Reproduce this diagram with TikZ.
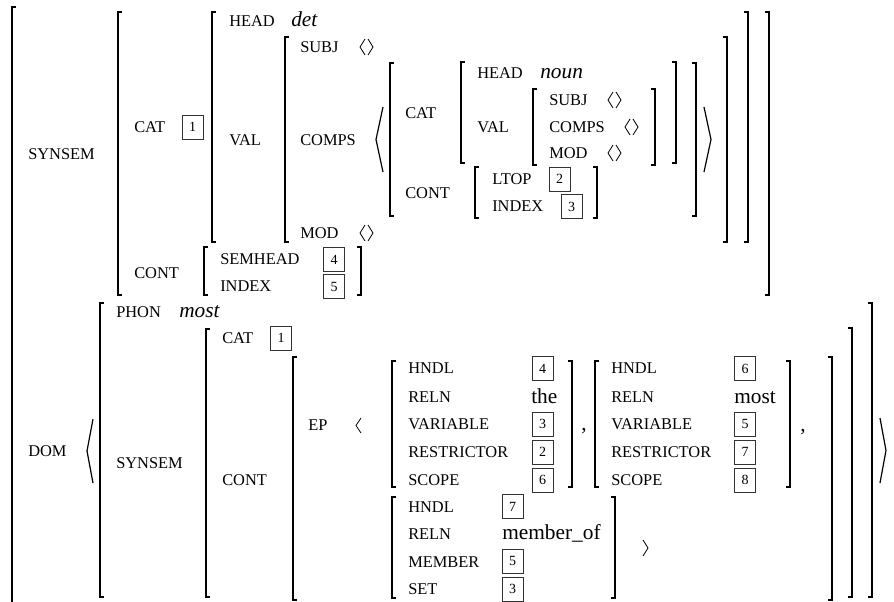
\documentclass[tikz,border=0pt]{standalone}
\usepackage{fontspec}
\setmainfont{Liberation Serif}
\newcommand\avmL[3]{\draw[brk] (#1+4,#2) -- (#1,#2) -- (#1,#3) -- (#1+4,#3);}
\newcommand\avmR[3]{\draw[brk] (#1-4,#2) -- (#1,#2) -- (#1,#3) -- (#1-4,#3);}
\newcommand\angL[4]{\draw[ang] (#2,#3) -- (#1,{(#3+#4)/2}) -- (#2,#4);}
\newcommand\angR[4]{\draw[ang] (#1,#3) -- (#2,{(#3+#4)/2}) -- (#1,#4);}
\newcommand\elist[2]{\draw[angs] (#1+5,#2-8) -- (#1,#2) -- (#1+5,#2+8);
  \draw[angs] (#1+8,#2-8) -- (#1+13,#2) -- (#1+8,#2+8);}
\begin{document}
\begin{tikzpicture}[x=0.75pt,y=-0.75pt,
  brk/.style={line width=1.1pt,line cap=butt},
  ang/.style={line width=0.9pt},
  angs/.style={line width=0.6pt},
  lab/.style={anchor=base west,inner sep=0pt,font=\fontsize{12.3}{14}\selectfont},
  val/.style={anchor=base west,inner sep=0pt,font=\fontsize{16}{19}\selectfont},
  ival/.style={anchor=base west,inner sep=0pt,font=\fontsize{16}{19}\selectfont\itshape},
  tagbox/.style={draw=black!80,line width=0.6pt,inner sep=0pt,minimum width=15.75pt,minimum height=18pt,font=\fontsize{10.5}{12}\selectfont}]
\useasboundingbox (0,0) rectangle (894,601);
% ---------- upper part ----------
\node[lab] (synsem1) at (28,159) {SYNSEM};
\node[lab] (cat1) at (134,132) {CAT};
\node[tagbox] (t1a) at (192.5,127) {1};
\node[lab] (head1) at (229,26) {HEAD};
\node[ival] (det) at (291,26) {det};
\node[lab] (val1) at (229,145) {VAL};
\node[lab] (subj1) at (300,52) {SUBJ};
\elist{360}{47}
\node[lab] (comps1) at (300,145) {COMPS};
\node[lab] (mod1) at (300,238) {MOD};
\elist{360}{233}
\node[lab] (cat2) at (405,118) {CAT};
\node[lab] (cont2) at (405,198) {CONT};
\node[lab] (head2) at (477,78) {HEAD};
\node[ival] (noun) at (540,78) {noun};
\node[lab] (val2) at (477,132) {VAL};
\node[lab] (subj2) at (549,105) {SUBJ};
\elist{608}{100}
\node[lab] (comps2) at (549,132) {COMPS};
\elist{625}{127}
\node[lab] (mod2) at (549,158) {MOD};
\elist{608}{153}
\node[lab] (ltop) at (492,184) {LTOP};
\node[tagbox] (t2a) at (559.5,179) {2};
\node[lab] (index2) at (492,211) {INDEX};
\node[tagbox] (t3a) at (571.5,206.5) {3};
\node[lab] (cont1) at (134,278) {CONT};
\node[lab] (semhead) at (220,264) {SEMHEAD};
\node[tagbox] (t4a) at (334,259.5) {4};
\node[lab] (index1) at (220,291) {INDEX};
\node[tagbox] (t5a) at (334,286.5) {5};
% brackets (upper)
\avmL{12}{7}{606}
\avmL{118}{12}{295}
\avmL{212}{12}{242}
\avmL{285}{37}{242}
\avmL{390}{63}{216}
\avmL{461}{62}{163}
\avmL{533}{89}{165}
\avmR{655}{89}{165}
\avmR{676}{62}{163}
\avmL{475}{167}{218}
\avmR{597}{167}{218}
\avmR{696}{63}{216}
\avmR{727}{37}{242}
\avmR{748}{12}{242}
\avmR{769}{12}{295}
\avmL{204}{247}{295}
\avmR{361}{247}{295}
\angL{376}{383}{107}{172}
\angR{704}{711}{107}{172}
% ---------- lower part ----------
\node[lab] (dom) at (28,456) {DOM};
\node[lab] (phon) at (116,317) {PHON};
\node[ival] (most1) at (179,317) {most};
\node[lab] (synsem2) at (116,468) {SYNSEM};
\node[lab] (cat3) at (222,343) {CAT};
\node[tagbox] (t1b) at (281,338) {1};
\node[lab] (cont3) at (222,485) {CONT};
\node[lab] (ep) at (308,430) {EP};
% first EP
\node[lab] (hndl1) at (408,373) {HNDL};
\node[lab] (reln1) at (408,402) {RELN};
\node[lab] (var1) at (408,429) {VARIABLE};
\node[lab] (restr1) at (408,457) {RESTRICTOR};
\node[lab] (scope1) at (408,485) {SCOPE};
\node[tagbox] (t4b) at (542.5,368.5) {4};
\node[val] (the) at (531,403) {the};
\node[tagbox] (t3b) at (542.5,424) {3};
\node[tagbox] (t2b) at (542.5,452) {2};
\node[tagbox] (t6b) at (542.5,480) {6};
\node[val] (comma1) at (581,430) {,};
% second EP
\node[lab] (hndl2) at (611,373) {HNDL};
\node[lab] (reln2) at (611,402) {RELN};
\node[lab] (var2) at (611,429) {VARIABLE};
\node[lab] (restr2) at (611,457) {RESTRICTOR};
\node[lab] (scope2) at (611,485) {SCOPE};
\node[tagbox] (t6c) at (745,368.5) {6};
\node[val] (most2) at (734,403) {most};
\node[tagbox] (t5c) at (745,424) {5};
\node[tagbox] (t7c) at (745,452) {7};
\node[tagbox] (t8c) at (745,480) {8};
\node[val] (comma2) at (800,431) {,};
% member_of EP
\node[lab] (hndl3) at (408,512) {HNDL};
\node[lab] (reln3) at (408,539) {RELN};
\node[lab] (member) at (408,567) {MEMBER};
\node[lab] (set) at (408,594) {SET};
\node[tagbox] (t7d) at (512.5,506.5) {7};
\node[val] (memberof) at (502,539) {member\_of};
\node[tagbox] (t5d) at (512.5,561) {5};
\node[tagbox] (t3d) at (512.5,589) {3};
% brackets (lower)
\avmL{100}{303}{597}
\avmL{206}{329}{597}
\avmL{293}{357}{600}
\avmL{392}{361}{487}
\avmR{572}{361}{487}
\avmL{595}{361}{487}
\avmR{790}{361}{487}
\avmL{392}{497}{598}
\avmR{615}{497}{598}
\avmR{832}{357}{600}
\avmR{852}{328}{597}
\avmR{872}{303}{597}
\angL{87}{93}{419}{483}
\angR{880}{886}{418}{483}
\draw[angs] (361,418) -- (356,425.5) -- (361,433);
\draw[angs] (643,540) -- (648,548) -- (643,556);
\end{tikzpicture}
\end{document}
